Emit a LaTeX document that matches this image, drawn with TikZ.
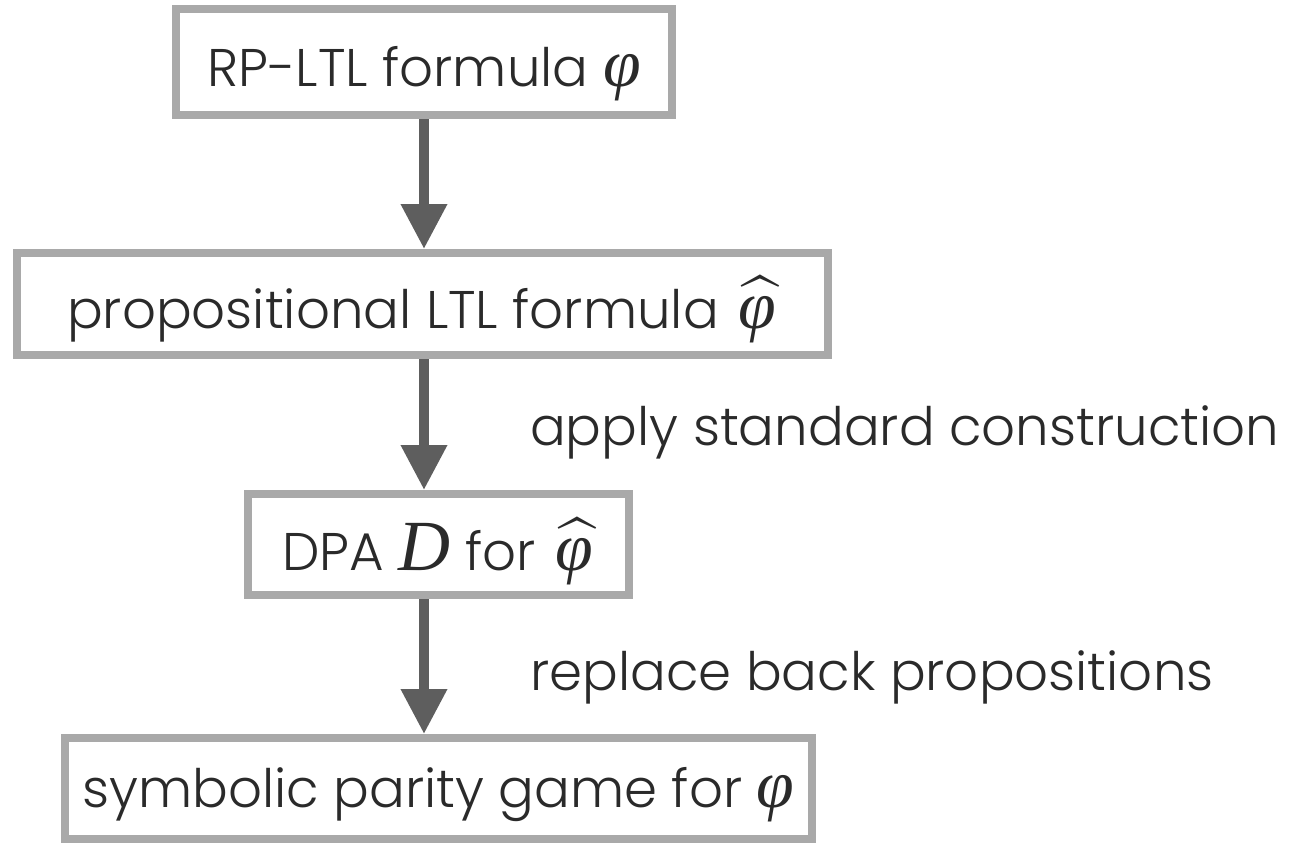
\documentclass[tikz,border=0pt]{standalone}
\usepackage{mathptmx}
\usepackage{fontspec}
\setmainfont{Poppins}[UprightFont=* Light]
\newfontfamily\formfont{Liberation Serif}
\usetikzlibrary{arrows.meta}
\definecolor{boxgray}{HTML}{A9A9A9}
\definecolor{arrowgray}{HTML}{5E5E5E}
\definecolor{textgray}{HTML}{2A2A2A}
% formula symbols: serif italic, set larger than the running text
\newcommand\formphi{{\fontsize{68}{68}\selectfont\formfont\itshape φ}}
\newcommand\formhatphi{{\fontsize{68}{68}\selectfont
  $\widehat{\hbox{\kern5pt\formfont\itshape φ\kern12pt}}$}\kern-10pt}
\newcommand\formD{{\fontsize{72}{72}\selectfont\formfont\itshape D}}
\begin{document}
\begin{tikzpicture}[x=1pt,y=1pt,
  stagebox/.style={draw=boxgray, line width=8pt, fill=white, inner sep=0pt,
    text=textgray, font=\fontsize{53}{62}\selectfont, text depth=0pt},
  steplabel/.style={anchor=base west, inner sep=0pt, text=textgray,
    font=\fontsize{53}{62}\selectfont},
  flow/.style={draw=arrowgray, line width=10pt,
    -{Triangle[width=44pt,length=45pt]}}]
\useasboundingbox (0,0) rectangle (1289,-843);

\node[stagebox, minimum width=496pt, minimum height=106pt, text height=48pt]
  (b1) at (424,-62) {RP-LTL formula \formphi};
\node[stagebox, minimum width=811pt, minimum height=102pt, text height=48pt]
  (b2) at (422.5,-304) {propositional LTL formula \formhatphi};
\node[stagebox, minimum width=381pt, minimum height=101pt, text height=51pt]
  (b3) at (438.5,-544.5) {DPA \formD\ for \formhatphi};
\node[stagebox, minimum width=747pt, minimum height=101pt, text height=37pt]
  (b4) at (438.5,-788.5) {symbolic parity game for \formphi};

\coordinate (axis) at (424,0);
\draw[flow] (b1.south) -- (axis |- b2.north);
\draw[flow] (axis |- b2.south) -- (axis |- b3.north);
\draw[flow] (axis |- b3.south) -- (axis |- b4.north);

\node[steplabel] (l1) at (530,-445) {apply standard construction};
\node[steplabel] (l2) at (530,-690) {replace back propositions};
\end{tikzpicture}
\end{document}
